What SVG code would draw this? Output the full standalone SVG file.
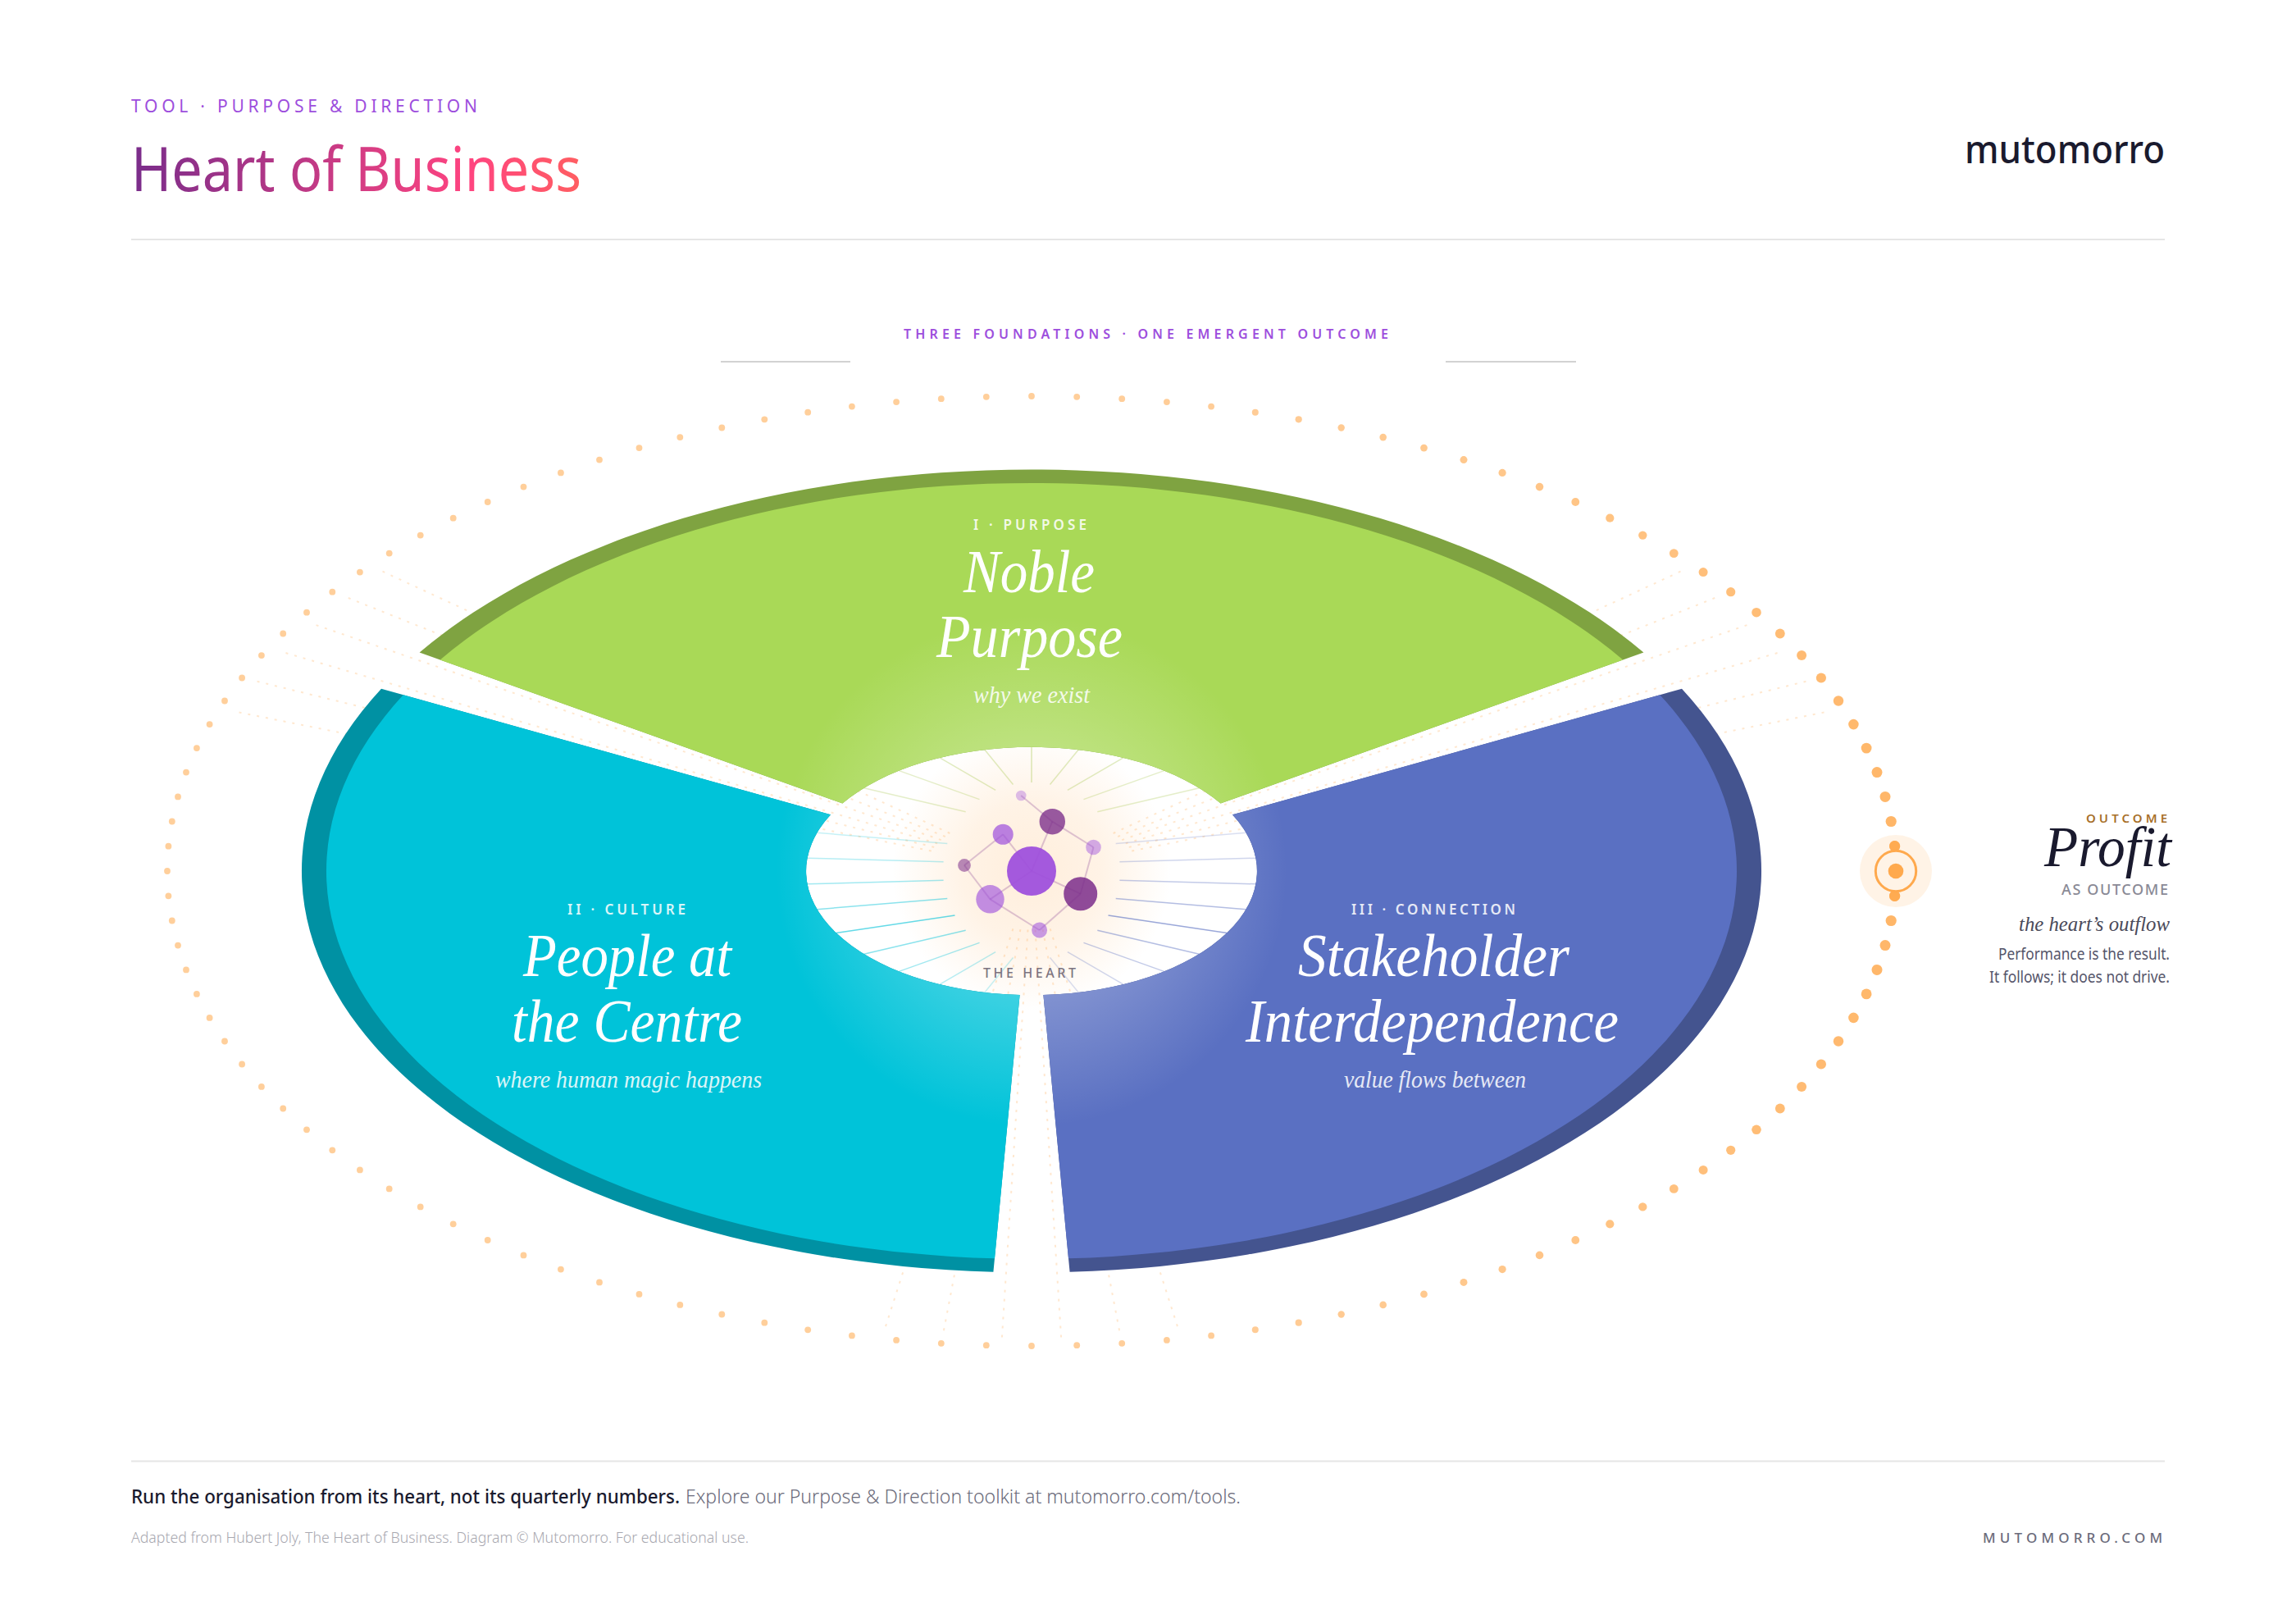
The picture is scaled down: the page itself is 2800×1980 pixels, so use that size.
<svg xmlns="http://www.w3.org/2000/svg" width="2800" height="1980" viewBox="0 0 2800 1980">
<style>
.sans{font-family:"Noto Sans","Open Sans",sans-serif}
.serif{font-family:"Liberation Serif","DejaVu Serif",serif;font-style:italic}
.rule{stroke:#E6E6E6;stroke-width:2}
.tick{stroke:#D2D2D2;stroke-width:2}
.lab{font-size:17px;font-weight:600;fill:#fff;opacity:.85}
.big{font-size:75px;fill:#fff}
.sub{font-size:30px;fill:#fff;opacity:.85}
.rd{fill:#FFA94D}
.ld{fill:#FFA94D;opacity:.56}
.dash{stroke:#FFA94D;stroke-width:2;stroke-dasharray:3 8;opacity:.26;fill:none}
.glow{fill:url(#sectorGlow)}
.edge{stroke:#7B2D8B;stroke-width:2;opacity:.25}
.pu{fill:#9D4EDD}
.dk{fill:#7B2D8B}
.note{font-size:20px;fill:#55556A}
</style>
<defs>
<linearGradient id="titleGrad" gradientUnits="userSpaceOnUse" x1="165" y1="0" x2="707" y2="0">
<stop offset="0" stop-color="#7B2D8B"/><stop offset=".75" stop-color="#FF4480"/><stop offset="1" stop-color="#FF5E62"/>
</linearGradient>
<radialGradient id="sectorGlow" gradientUnits="userSpaceOnUse" cx="0" cy="0" r="312" gradientTransform="scale(1 1.818)">
<stop offset="0" stop-color="#fff" stop-opacity=".46"/><stop offset="1" stop-color="#fff" stop-opacity="0"/>
</radialGradient>
<radialGradient id="heartGlow">
<stop offset="0" stop-color="#FFA94D" stop-opacity=".2"/><stop offset=".5" stop-color="#FFA94D" stop-opacity=".14"/><stop offset="1" stop-color="#FFA94D" stop-opacity="0"/>
</radialGradient>
</defs>
<rect width="2800" height="1980" fill="#fff"/>

<g id="header">
<text class="sans" x="160" y="137" font-size="21" fill="#9D4EDD" textLength="422" lengthAdjust="spacing">TOOL · PURPOSE &amp; DIRECTION</text>
<text class="sans" x="160" y="233" font-size="74" font-weight="400" fill="url(#titleGrad)" textLength="549" lengthAdjust="spacingAndGlyphs">Heart of Business</text>
<text class="sans" x="2396" y="199" font-size="48" font-weight="500" fill="#1A1A2E" textLength="244" lengthAdjust="spacingAndGlyphs">mutomorro</text>
<line class="rule" x1="160" y1="292" x2="2640" y2="292"/>
<text class="sans" x="1102" y="413" font-size="16" font-weight="600" fill="#9D4EDD" textLength="591" lengthAdjust="spacing">THREE FOUNDATIONS · ONE EMERGENT OUTCOME</text>
<line class="tick" x1="879" y1="441" x2="1037" y2="441"/>
<line class="tick" x1="1763" y1="441" x2="1922" y2="441"/>
</g>

<g id="heart-glow"><circle cx="1258" cy="1062" r="170" fill="url(#heartGlow)"/></g>

<g id="outflow-rays" class="dash" transform="translate(1258 1062)">
<line x1="22.6" y1="70.4" x2="179.7" y2="560.6"/><line x1="13.6" y1="71.1" x2="108.2" y2="566.1"/><line x1="4.5" y1="71.5" x2="36.1" y2="568.9"/>
<line x1="-4.5" y1="71.5" x2="-36.1" y2="568.9"/><line x1="-13.6" y1="71.1" x2="-108.2" y2="566.1"/><line x1="-22.6" y1="70.4" x2="-179.7" y2="560.6"/>
<line x1="-122.2" y1="-24.5" x2="-972.6" y2="-194.7"/><line x1="-118.8" y1="-29.1" x2="-945.5" y2="-231.5"/><line x1="-114.8" y1="-33.6" x2="-913.9" y2="-267.2"/>
<line x1="-110.2" y1="-37.9" x2="-877.7" y2="-301.7"/><line x1="-105.2" y1="-42" x2="-837.3" y2="-334.6"/><line x1="-99.6" y1="-46" x2="-792.8" y2="-365.9"/>
<line x1="122.2" y1="-24.5" x2="972.6" y2="-194.7"/><line x1="118.8" y1="-29.1" x2="945.5" y2="-231.5"/><line x1="114.8" y1="-33.6" x2="913.9" y2="-267.2"/>
<line x1="110.2" y1="-37.9" x2="877.7" y2="-301.7"/><line x1="105.2" y1="-42" x2="837.3" y2="-334.6"/><line x1="99.6" y1="-46" x2="792.8" y2="-365.9"/>
</g>

<g id="profit-ring">
<g id="dq1" transform="translate(1258 1062)">
<g id="dqa">
<circle class="rd" cx="1052.6" cy="-30.3" r="6.6" opacity=".85"/><circle class="rd" cx="1048.2" cy="-60.5" r="6.6" opacity=".85"/><circle class="rd" cx="1041" cy="-90.6" r="6.5" opacity=".84"/>
<circle class="rd" cx="1031" cy="-120.4" r="6.5" opacity=".84"/><circle class="rd" cx="1018.1" cy="-149.9" r="6.4" opacity=".83"/><circle class="rd" cx="1002.4" cy="-178.9" r="6.3" opacity=".82"/>
<circle class="rd" cx="984" cy="-207.5" r="6.2" opacity=".81"/><circle class="rd" cx="962.9" cy="-235.5" r="6.1" opacity=".8"/><circle class="rd" cx="939.1" cy="-262.9" r="6" opacity=".79"/>
<circle class="rd" cx="912.8" cy="-289.5" r="5.9" opacity=".78"/><circle class="rd" cx="884" cy="-315.3" r="5.8" opacity=".77"/><circle class="rd" cx="852.7" cy="-340.3" r="5.6" opacity=".75"/>
<circle class="rd" cx="819.1" cy="-364.4" r="5.5" opacity=".74"/><circle class="rd" cx="783.3" cy="-387.4" r="5.4" opacity=".72"/><circle class="rd" cx="745.3" cy="-409.4" r="5.2" opacity=".71"/>
<circle class="rd" cx="705.3" cy="-430.3" r="5.1" opacity=".7"/><circle class="rd" cx="663.3" cy="-450" r="4.9" opacity=".68"/><circle class="rd" cx="619.5" cy="-468.4" r="4.8" opacity=".67"/>
<circle class="rd" cx="574.1" cy="-485.6" r="4.6" opacity=".65"/><circle class="rd" cx="527" cy="-501.4" r="4.5" opacity=".64"/><circle class="rd" cx="478.5" cy="-515.9" r="4.4" opacity=".63"/>
<circle class="rd" cx="428.7" cy="-528.9" r="4.3" opacity=".62"/><circle class="rd" cx="377.7" cy="-540.5" r="4.2" opacity=".61"/><circle class="rd" cx="325.7" cy="-550.7" r="4.1" opacity=".6"/>
<circle class="rd" cx="272.8" cy="-559.3" r="4" opacity=".59"/><circle class="rd" cx="219.1" cy="-566.4" r="3.9" opacity=".58"/><circle class="rd" cx="164.9" cy="-571.9" r="3.9" opacity=".58"/>
<circle class="rd" cx="110.2" cy="-575.8" r="3.9" opacity=".57"/><circle class="rd" cx="55.2" cy="-578.2" r="3.9" opacity=".57"/>
</g>
<use href="#dqa" transform="scale(1 -1)"/>
<g id="dqb">
<circle class="ld" cx="-1052.6" cy="-30.3" r="3.9"/><circle class="ld" cx="-1048.2" cy="-60.5" r="3.9"/><circle class="ld" cx="-1041" cy="-90.6" r="3.9"/>
<circle class="ld" cx="-1031" cy="-120.4" r="3.9"/><circle class="ld" cx="-1018.1" cy="-149.9" r="3.9"/><circle class="ld" cx="-1002.4" cy="-178.9" r="3.9"/>
<circle class="ld" cx="-984" cy="-207.5" r="3.9"/><circle class="ld" cx="-962.9" cy="-235.5" r="3.9"/><circle class="ld" cx="-939.1" cy="-262.9" r="3.9"/>
<circle class="ld" cx="-912.8" cy="-289.5" r="3.9"/><circle class="ld" cx="-884" cy="-315.3" r="3.9"/><circle class="ld" cx="-852.7" cy="-340.3" r="3.9"/>
<circle class="ld" cx="-819.1" cy="-364.4" r="3.9"/><circle class="ld" cx="-783.3" cy="-387.4" r="3.9"/><circle class="ld" cx="-745.3" cy="-409.4" r="3.9"/>
<circle class="ld" cx="-705.3" cy="-430.3" r="3.9"/><circle class="ld" cx="-663.3" cy="-450" r="3.9"/><circle class="ld" cx="-619.5" cy="-468.4" r="3.9"/>
<circle class="ld" cx="-574.1" cy="-485.6" r="3.9"/><circle class="ld" cx="-527" cy="-501.4" r="3.9"/><circle class="ld" cx="-478.5" cy="-515.9" r="3.9"/>
<circle class="ld" cx="-428.7" cy="-528.9" r="3.9"/><circle class="ld" cx="-377.7" cy="-540.5" r="3.9"/><circle class="ld" cx="-325.7" cy="-550.7" r="3.9"/>
<circle class="ld" cx="-272.8" cy="-559.3" r="3.9"/><circle class="ld" cx="-219.1" cy="-566.4" r="3.9"/><circle class="ld" cx="-164.9" cy="-571.9" r="3.9"/>
<circle class="ld" cx="-110.2" cy="-575.8" r="3.9"/><circle class="ld" cx="-55.2" cy="-578.2" r="3.9"/>
</g>
<use href="#dqb" transform="scale(1 -1)"/>
<circle class="ld" cx="0" cy="-579" r="3.9"/><circle class="ld" cx="0" cy="579" r="3.9"/><circle class="ld" cx="-1054" cy="0" r="3.9"/>
</g>
</g>

<g id="purpose">
<g transform="translate(1258 1062) scale(1 .55)">
<path fill="#7FA341" d="M-230.6 -149.8L-746.4 -484.7A890 890 0 0 1 746.4 -484.7L230.6 -149.8A275 275 0 0 0 -230.6 -149.8Z"/>
<path fill="#A9D957" d="M-230.6 -149.8L-721.3 -468.4A860 860 0 0 1 721.3 -468.4L230.6 -149.8A275 275 0 0 0 -230.6 -149.8Z"/>
<path class="glow" d="M-230.6 -149.8L-721.3 -468.4A860 860 0 0 1 721.3 -468.4L230.6 -149.8A275 275 0 0 0 -230.6 -149.8Z"/>
</g>
<text class="sans lab" x="1187" y="646" textLength="138" lengthAdjust="spacing">I · PURPOSE</text>
<text class="serif big" x="1175" y="722" textLength="160" lengthAdjust="spacingAndGlyphs">Noble</text>
<text class="serif big" x="1142" y="801" textLength="227" lengthAdjust="spacingAndGlyphs">Purpose</text>
<text class="serif sub" x="1187" y="857" textLength="142" lengthAdjust="spacingAndGlyphs">why we exist</text>
</g>

<g id="culture">
<g transform="translate(1258 1062) scale(1 .55)">
<path fill="#0091A3" d="M-14.4 274.6L-46.6 888.8A890 890 0 0 1 -793 -404.1L-245 -124.8A275 275 0 0 0 -14.4 274.6Z"/>
<path fill="#00C3D9" d="M-14.4 274.6L-45 858.8A860 860 0 0 1 -766.3 -390.4L-245 -124.8A275 275 0 0 0 -14.4 274.6Z"/>
<path class="glow" d="M-14.4 274.6L-45 858.8A860 860 0 0 1 -766.3 -390.4L-245 -124.8A275 275 0 0 0 -14.4 274.6Z"/>
</g>
<text class="sans lab" x="692" y="1115" textLength="144" lengthAdjust="spacing">II · CULTURE</text>
<text class="serif big" x="638" y="1190" textLength="254" lengthAdjust="spacingAndGlyphs">People at</text>
<text class="serif big" x="624" y="1270" textLength="281" lengthAdjust="spacingAndGlyphs">the Centre</text>
<text class="serif sub" x="604" y="1326" textLength="325" lengthAdjust="spacingAndGlyphs">where human magic happens</text>
</g>

<g id="connection">
<g transform="translate(1258 1062) scale(1 .55)">
<path fill="#44548F" d="M245 -124.8L793 -404.1A890 890 0 0 1 46.6 888.8L14.4 274.6A275 275 0 0 0 245 -124.8Z"/>
<path fill="#5A70C2" d="M245 -124.8L766.3 -390.4A860 860 0 0 1 45 858.8L14.4 274.6A275 275 0 0 0 245 -124.8Z"/>
<path class="glow" d="M245 -124.8L766.3 -390.4A860 860 0 0 1 45 858.8L14.4 274.6A275 275 0 0 0 245 -124.8Z"/>
</g>
<text class="sans lab" x="1648" y="1115" textLength="200" lengthAdjust="spacing">III · CONNECTION</text>
<text class="serif big" x="1583" y="1190" textLength="331" lengthAdjust="spacingAndGlyphs">Stakeholder</text>
<text class="serif big" x="1519" y="1270" textLength="455" lengthAdjust="spacingAndGlyphs">Interdependence</text>
<text class="serif sub" x="1639" y="1326" textLength="222" lengthAdjust="spacingAndGlyphs">value flows between</text>
</g>

<g id="connectors">
<g id="heart-rays" transform="translate(1258 1062)" stroke-width="1.5">
<g stroke="#A9C94F">
<line x1="0" y1="-108" x2="0" y2="-151" opacity=".4"/>
<line x1="22.5" y1="-105.6" x2="57.2" y2="-147.9" opacity=".35"/><line x1="43.9" y1="-98.7" x2="111.9" y2="-138.2" opacity=".35"/><line x1="63.5" y1="-87.4" x2="161.6" y2="-122.4" opacity=".3"/><line x1="80.3" y1="-72.3" x2="204.4" y2="-101.2" opacity=".3"/>
<line x1="-22.5" y1="-105.6" x2="-57.2" y2="-147.9" opacity=".35"/><line x1="-43.9" y1="-98.7" x2="-111.9" y2="-138.2" opacity=".35"/><line x1="-63.5" y1="-87.4" x2="-161.6" y2="-122.4" opacity=".3"/><line x1="-80.3" y1="-72.3" x2="-204.4" y2="-101.2" opacity=".3"/>
</g>
<g stroke="#5A70C2">
<line x1="102.7" y1="-33.4" x2="261.5" y2="-46.7" opacity=".22"/><line x1="107.4" y1="-11.3" x2="273.5" y2="-15.8" opacity=".28"/><line x1="107.4" y1="11.3" x2="273.5" y2="15.8" opacity=".36"/><line x1="102.7" y1="33.4" x2="261.5" y2="46.7" opacity=".45"/>
<line x1="93.5" y1="54" x2="238.2" y2="75.6" opacity=".6"/><line x1="80.3" y1="72.3" x2="204.4" y2="101.2" opacity=".45"/><line x1="63.5" y1="87.4" x2="161.6" y2="122.4" opacity=".36"/><line x1="43.9" y1="98.7" x2="111.9" y2="138.2" opacity=".28"/><line x1="22.5" y1="105.6" x2="57.2" y2="147.9" opacity=".22"/>
</g>
<g stroke="#00C3D9">
<line x1="-102.7" y1="-33.4" x2="-261.5" y2="-46.7" opacity=".22"/><line x1="-107.4" y1="-11.3" x2="-273.5" y2="-15.8" opacity=".28"/><line x1="-107.4" y1="11.3" x2="-273.5" y2="15.8" opacity=".36"/><line x1="-102.7" y1="33.4" x2="-261.5" y2="46.7" opacity=".45"/>
<line x1="-93.5" y1="54" x2="-238.2" y2="75.6" opacity=".6"/><line x1="-80.3" y1="72.3" x2="-204.4" y2="101.2" opacity=".45"/><line x1="-63.5" y1="87.4" x2="-161.6" y2="122.4" opacity=".36"/><line x1="-43.9" y1="98.7" x2="-111.9" y2="138.2" opacity=".28"/><line x1="-22.5" y1="105.6" x2="-57.2" y2="147.9" opacity=".22"/>
</g>
</g>
<g id="heart-edges">
<line class="edge" x1="1245.2" y1="970" x2="1283.3" y2="1001.7"/>
<line class="edge" x1="1283.3" y1="1001.7" x2="1333.5" y2="1033"/>
<line class="edge" x1="1333.5" y1="1033" x2="1317.7" y2="1089.7"/>
<line class="edge" x1="1317.7" y1="1089.7" x2="1267.6" y2="1134"/>
<line class="edge" x1="1267.6" y1="1134" x2="1207.5" y2="1096.3"/>
<line class="edge" x1="1207.5" y1="1096.3" x2="1176" y2="1055"/>
<line class="edge" x1="1176" y1="1055" x2="1223.2" y2="1017.3"/>
<line class="edge" x1="1223.2" y1="1017.3" x2="1258" y2="1062"/>
<line class="edge" x1="1283.3" y1="1001.7" x2="1258" y2="1062"/>
<line class="edge" x1="1317.7" y1="1089.7" x2="1258" y2="1062"/>
<line class="edge" x1="1207.5" y1="1096.3" x2="1258" y2="1062"/>
</g>
</g>

<g id="heart">
<g id="n-core"><circle class="pu" cx="1258" cy="1062" r="30" opacity=".93"/></g>
<g id="n1"><circle class="pu" cx="1245.2" cy="970" r="6.3" opacity=".35"/></g>
<g id="n2"><circle class="dk" cx="1283.3" cy="1001.7" r="15.7" opacity=".78"/></g>
<g id="n3"><circle class="pu" cx="1223.2" cy="1017.3" r="12.5" opacity=".7"/></g>
<g id="n4"><circle class="pu" cx="1333.5" cy="1033" r="9.3" opacity=".45"/></g>
<g id="n5"><circle class="dk" cx="1176" cy="1055" r="7.9" opacity=".55"/></g>
<g id="n6"><circle class="pu" cx="1207.5" cy="1096.3" r="17.2" opacity=".62"/></g>
<g id="n7"><circle class="dk" cx="1317.7" cy="1089.7" r="20.5" opacity=".85"/></g>
<g id="n8"><circle class="pu" cx="1267.6" cy="1134" r="9.5" opacity=".55"/></g>
<text class="sans" x="1199" y="1192" font-size="16" font-weight="500" fill="#7D7480" textLength="113" lengthAdjust="spacing">THE HEART</text>
</g>

<g id="profit">
<circle cx="2312" cy="1062" r="44" fill="#FFA94D" opacity=".14"/>
<circle cx="2310.6" cy="1031.7" r="6.6" fill="#FFA94D" opacity=".85"/>
<circle cx="2310.6" cy="1092.3" r="6.6" fill="#FFA94D" opacity=".85"/>
<circle cx="2312" cy="1062" r="24.7" fill="none" stroke="#FFA94D" stroke-width="3"/>
<circle cx="2312" cy="1062" r="9.3" fill="#FFA94D"/>
<text class="sans" x="2544" y="1003" font-size="15" font-weight="600" fill="#A8702A" textLength="99" lengthAdjust="spacing">OUTCOME</text>
<text class="serif" x="2493" y="1056" font-size="70" fill="#1A1A2E" textLength="155" lengthAdjust="spacingAndGlyphs">Profit</text>
<text class="sans" x="2514" y="1091" font-size="18" font-weight="500" fill="#8A8A96" textLength="130" lengthAdjust="spacing">AS OUTCOME</text>
<text class="serif" x="2462" y="1135" font-size="26" fill="#4A4A5A" textLength="184" lengthAdjust="spacingAndGlyphs">the heart’s outflow</text>
<text class="sans note" x="2437" y="1170" textLength="209" lengthAdjust="spacingAndGlyphs">Performance is the result.</text>
<text class="sans note" x="2426" y="1198" textLength="220" lengthAdjust="spacingAndGlyphs">It follows; it does not drive.</text>
</g>

<g id="footer">
<line class="rule" x1="160" y1="1781.5" x2="2640" y2="1781.5"/>
<text class="sans" x="160" y="1833" font-size="24" font-weight="500" fill="#1A1A2E" textLength="669" lengthAdjust="spacingAndGlyphs">Run the organisation from its heart, not its quarterly numbers.</text>
<text class="sans" x="836" y="1833" font-size="24" font-weight="300" fill="#6B6B7B" textLength="677" lengthAdjust="spacingAndGlyphs">Explore our Purpose &amp; Direction toolkit at mutomorro.com/tools.</text>
<text class="sans" x="160" y="1881" font-size="18" font-weight="300" fill="#A8A8B0" textLength="753" lengthAdjust="spacingAndGlyphs">Adapted from Hubert Joly, The Heart of Business. Diagram © Mutomorro. For educational use.</text>
<text class="sans" x="2418" y="1881" font-size="17" font-weight="500" fill="#6B6B7B" textLength="219" lengthAdjust="spacing">MUTOMORRO.COM</text>
</g>
</svg>
